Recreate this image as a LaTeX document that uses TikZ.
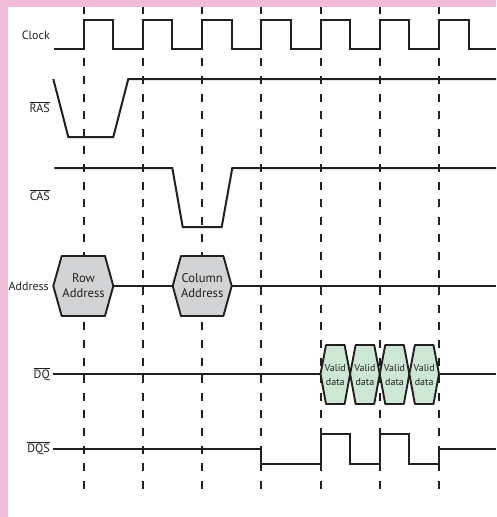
\documentclass[tikz,border=0pt]{standalone}
\usepackage{fontspec}
\setmainfont{PT Sans}
\usepackage{tikz}
\usetikzlibrary{positioning}
\definecolor{edgepink}{RGB}{239,187,214}
\definecolor{addrgray}{RGB}{209,211,212}
\definecolor{datagreen}{RGB}{204,232,212}
\definecolor{inkline}{RGB}{35,31,32}

\begin{document}
\begin{tikzpicture}[x=1pt, y=-1pt,
  sig/.style={draw=inkline, line width=2pt, line join=miter},
  gridline/.style={draw=inkline, line width=2pt, dash pattern=on 8pt off 9.6pt},
  bus/.style={draw=inkline, line width=1.9pt, line join=round},
  lbl/.style={anchor=east, inner sep=0pt, font=\fontsize{12}{14}\selectfont, text=inkline},
  busname/.style={inner sep=0pt, align=center, font=\fontsize{12.6}{15}\selectfont, text=inkline},
  datatext/.style={inner sep=0pt, align=center, font=\fontsize{10}{13.5}\selectfont, text=inkline}
]
  \useasboundingbox (0,0) rectangle (496,517);
  \fill[white] (0,0) rectangle (496,517);

  % clock edges
  \foreach \k in {0,...,6} {
    \pgfmathsetmacro{\xe}{83.5+59.25*\k}
    \draw[gridline] (\xe,5.5) -- (\xe,488.5);
  }

  % clock
  \draw[sig] (54.3,49) 
    \foreach \k in {0,...,6} {
      -- ({83.5+59.25*\k},49) -- ({83.5+59.25*\k},20) -- ({113.1+59.25*\k},20) -- ({113.1+59.25*\k},49)
    } -- (496,49);

  % ras, cas
  \draw[sig] (53.3,79) -- (68.3,137) -- (113.3,137) -- (128.3,79) -- (496,79);
  \draw[sig] (54.3,168) -- (172.3,168) -- (182.7,227) -- (221.7,227) -- (232.3,168) -- (496,168);

  % address bus
  \draw[sig] (113.3,286) -- (172.7,286);
  \draw[sig] (231.7,286) -- (496,286);
  \draw[bus, fill=addrgray] (53.3,286) -- (61.7,256) -- (105,256) -- (113.3,286) -- (105,316) -- (61.7,316) -- cycle;
  \draw[bus, fill=addrgray] (172.7,286) -- (181,256) -- (223.4,256) -- (231.7,286) -- (223.4,316) -- (181,316) -- cycle;
  \node[busname] (rowaddr) at (83.5,286) {Row\\Address};
  \node[busname] (coladdr) at (202.2,286) {Column\\Address};

  % dq
  \draw[sig] (53.3,374) -- (320.5,374);
  \draw[sig] (439,374) -- (496,374);
  \foreach \i in {0,...,3} {
    \pgfmathsetmacro{\xa}{320.5+29.625*\i}
    \draw[bus, fill=datagreen] (\xa,374) -- ({\xa+5.5},345) -- ({\xa+24.1},345) -- ({\xa+29.6},374)
      -- ({\xa+24.1},404) -- ({\xa+5.5},404) -- cycle;
    \node[datatext] (valid\i) at ({\xa+14.8},375) {Valid\\data};
  }

  % dqs
  \draw[sig] (53.3,449) -- (261.3,449) -- (261.3,464) -- (320.5,464) -- (320.5,434) -- (350,434)
    -- (350,464) -- (379.8,464) -- (379.8,434) -- (409.3,434) -- (409.3,464) -- (439,464)
    -- (439,449) -- (496,449);

  % border
  \fill[edgepink] (0,0) rectangle (496,7);
  \fill[edgepink] (0,0) rectangle (8,517);

  % signal names
  \node[lbl] (clk) at (50,35) {Clock};
  \node[lbl] (ras) at (50,107) {$\overline{\mbox{RAS}}$};
  \node[lbl] (cas) at (50,195) {$\overline{\mbox{CAS}}$};
  \node[lbl] (addr) at (49,286) {Address};
  \node[lbl] (dq) at (50,374) {$\overline{\mbox{DQ}}$};
  \node[lbl] (dqs) at (50,448) {$\overline{\mbox{DQS}}$};
\end{tikzpicture}
\end{document}
